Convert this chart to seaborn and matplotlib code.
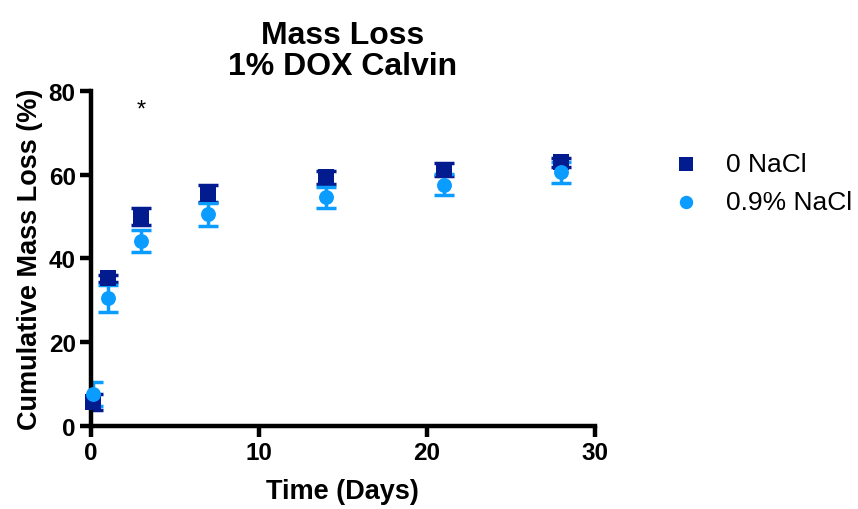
import matplotlib
matplotlib.use("Agg")
import matplotlib.pyplot as plt
import seaborn as sns
import pandas as pd

# Time points (days) and cumulative mass loss (mean, SD) for each condition
days = [0.125, 1, 3, 7, 14, 21, 28]
mean_0nacl = [5.8, 35.2, 50.0, 55.4, 59.3, 61.2, 62.9]
sd_0nacl = [1.9, 0.8, 2.1, 2.0, 1.5, 1.5, 1.1]
mean_09nacl = [7.6, 30.5, 44.2, 50.5, 54.6, 57.6, 60.5]
sd_09nacl = [2.9, 3.2, 2.6, 2.7, 2.5, 2.5, 2.5]
groups = ["0 NaCl", "0.9% NaCl"]
x_ticks = [0, 10, 20, 30]
y_ticks = [0, 20, 40, 60, 80]

df = pd.concat([
    pd.DataFrame({"Day": days, "Loss": mean_0nacl, "SD": sd_0nacl, "Group": groups[0]}),
    pd.DataFrame({"Day": days, "Loss": mean_09nacl, "SD": sd_09nacl, "Group": groups[1]}),
], ignore_index=True)

sns.set_theme(style="ticks")
plt.rcParams["font.family"] = ["Liberation Sans", "DejaVu Sans"]
plt.rcParams["text.color"] = "black"
plt.rcParams["axes.labelcolor"] = "black"
plt.rcParams["xtick.color"] = "black"
plt.rcParams["ytick.color"] = "black"

colors = {groups[0]: "#021b8f", groups[1]: "#0a9cff"}
markers = {groups[0]: "s", groups[1]: "o"}
sizes = {groups[0]: 140, groups[1]: 115}

fig = plt.figure(figsize=(8.58, 5.10), dpi=100)
ax = fig.add_axes([0.106, 0.163, 0.587, 0.657])

# Error bars first, then the mean markers on top
for g in groups:
    sub = df[df["Group"] == g]
    ax.errorbar(sub["Day"], sub["Loss"], yerr=sub["SD"], fmt="none",
                ecolor=colors[g], elinewidth=2.5, capsize=7, capthick=2.5, zorder=2)

for g in groups:
    sub = df[df["Group"] == g]
    sns.scatterplot(data=sub, x="Day", y="Loss", ax=ax, color=colors[g],
                    marker=markers[g], s=sizes[g], linewidth=0, label=g,
                    zorder=3, clip_on=False)

ax.set_xlim(0, 30)
ax.set_ylim(0, 80)
ax.set_xticks(x_ticks)
ax.set_yticks(y_ticks)
for s in ["top", "right"]:
    ax.spines[s].set_visible(False)
for s in ["left", "bottom"]:
    ax.spines[s].set_linewidth(3.2)
    ax.spines[s].set_color("black")
ax.tick_params(axis="both", width=3.2, length=8, color="black",
               labelsize=17.5, pad=3)
for lab in ax.get_xticklabels() + ax.get_yticklabels():
    lab.set_fontweight("bold")

ax.set_xlabel("Time (Days)", fontsize=19.5, fontweight="bold", labelpad=10)
ax.set_ylabel("Cumulative Mass Loss (%)", fontsize=19.5, fontweight="bold", labelpad=4)
ax.set_title("Mass Loss\n1% DOX Calvin", fontsize=23, fontweight="bold",
             linespacing=1.05, pad=12)

# Significance marker at day 3
ax.text(3, 75.5, "*", ha="center", va="center", fontsize=17)

handles, labels = ax.get_legend_handles_labels()
ax.legend_.remove()
fig.legend(handles, labels, loc="upper left", bbox_to_anchor=(0.756, 0.72),
           frameon=False, fontsize=19, handletextpad=0.55, labelspacing=0.5,
           markerscale=0.9, borderaxespad=0)

fig.savefig("out.png", dpi=100)
